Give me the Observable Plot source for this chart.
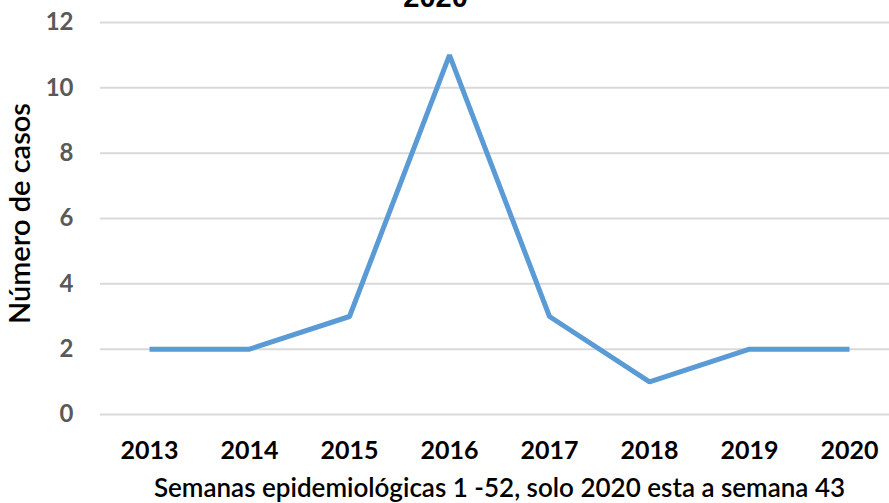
<!DOCTYPE html>
<html>
<head>
<meta charset="utf-8">
<script src="https://cdn.jsdelivr.net/npm/d3@7"></script>
<script src="https://cdn.jsdelivr.net/npm/@observablehq/plot@0.6"></script>
<style>
  body { margin: 0; background: #fff; }
</style>
</head>
<body>
<div id="chart"></div>
<script>
const years = ["2013", "2014", "2015", "2016", "2017", "2018", "2019", "2020"];
const cases = [2, 2, 3, 11, 3, 1, 2, 2];
const yTicks = [0, 2, 4, 6, 8, 10, 12];
const titleText = "2020";
const yLabel = "Número de casos";
const xLabel = "Semanas epidemiológicas 1 -52, solo 2020 esta a semana 43";

const data = years.map((y, i) => ({ year: y, value: cases[i] }));

const chart = Plot.plot({
  width: 889,
  height: 503,
  marginTop: 22,
  marginBottom: 89,
  marginLeft: 149,
  marginRight: 40,
  style: { fontFamily: "Lato, 'Open Sans', sans-serif", background: "#fff" },
  x: { type: "point", domain: years, padding: 0, label: null },
  y: { domain: [0, 12], label: null },
  marks: [
    Plot.ruleY(yTicks, { stroke: "#d9d9d9", strokeWidth: 2, insetLeft: -49, insetRight: -40 }),
    Plot.axisY(yTicks, { tickSize: 0, tickPadding: 76, fontSize: 24, fontWeight: "bold", fill: "#595959", label: null }),
    Plot.axisX({ tickSize: 0, tickPadding: 27, fontSize: 25, fontWeight: "bold", fill: "#000", label: null }),
    Plot.line(data, { x: "year", y: "value", stroke: "#5B9BD5", strokeWidth: 5, strokeLinejoin: "miter", strokeLinecap: "butt" }),
    Plot.text([yLabel], { text: d => d, frameAnchor: "left", textAnchor: "middle", lineAnchor: "middle", rotate: -90, dx: -129, dy: -5, fontSize: 29, fontWeight: "600", fill: "#000" }),
    Plot.text([xLabel], { text: d => d, frameAnchor: "bottom", lineAnchor: "middle", dy: 74, fontSize: 26, fontWeight: "600", fill: "#000" }),
    Plot.text([titleText], { text: d => d, frameAnchor: "top", dy: -16, dx: -64, lineAnchor: "bottom", fontSize: 29, fontWeight: "bold", fontFamily: "Liberation Sans, Arial, sans-serif", fill: "#000" })
  ]
});
document.getElementById("chart").appendChild(chart);
</script>
</body>
</html>
